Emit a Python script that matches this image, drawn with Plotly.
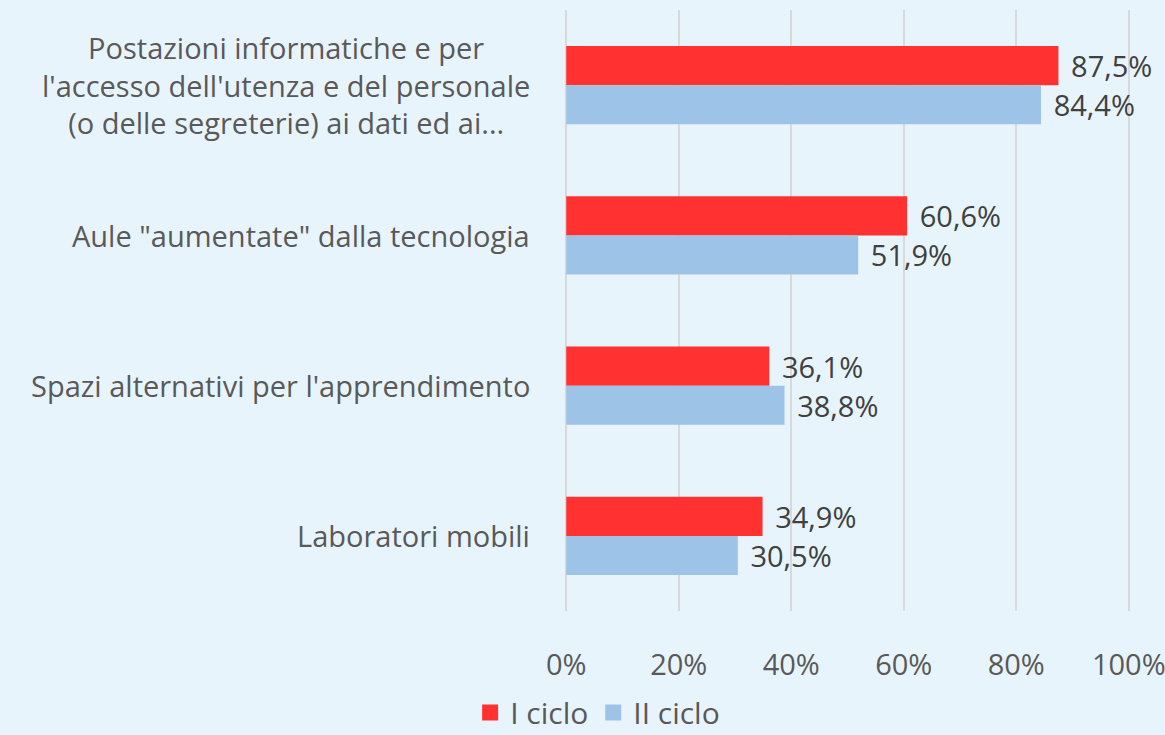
import plotly.graph_objects as go

categories = [
    "Postazioni informatiche e per<br>l'accesso dell'utenza e del personale<br>(o delle segreterie) ai dati ed ai...",
    "Aule \"aumentate\" dalla tecnologia",
    "Spazi alternativi per l'apprendimento",
    "Laboratori mobili",
]
i_ciclo = [87.5, 60.6, 36.1, 34.9]
ii_ciclo = [84.4, 51.9, 38.8, 30.5]
tick_vals = [0, 20, 40, 60, 80, 100]
tick_text = ["0%", "20%", "40%", "60%", "80%", "100%"]

FONT = "Open Sans"
BG = "#E8F4FC"
RED = "#FF3131"
BLUE = "#9DC3E6"
FS = 29

fig = go.Figure()
fig.add_trace(go.Bar(
    y=categories, x=i_ciclo, orientation="h", name="I ciclo", showlegend=False,
    marker=dict(color=RED, line=dict(width=0)),
    texttemplate="\u2009\u2009%{x:.1f}%", textposition="outside",
    textfont=dict(color="#404040", size=FS, family=FONT), cliponaxis=False,
))
fig.add_trace(go.Bar(
    y=categories, x=ii_ciclo, orientation="h", name="II ciclo", showlegend=False,
    marker=dict(color=BLUE, line=dict(width=0)),
    texttemplate="\u2009\u2009%{x:.1f}%", textposition="outside",
    textfont=dict(color="#404040", size=FS, family=FONT), cliponaxis=False,
))
# legend entries with larger square swatches
for name, col in [("I ciclo", RED), ("II ciclo", BLUE)]:
    fig.add_trace(go.Scatter(
        x=[None], y=[None], mode="markers", name=name,
        marker=dict(symbol="square", size=20, color=col),
    ))

for c in categories:
    fig.add_annotation(
        x=0, xref="paper", y=c, yref="y", text=c, showarrow=False,
        xanchor="right", xshift=-32, align="center",
        font=dict(size=FS, color="#595959", family=FONT),
    )

fig.update_layout(
    width=1165, height=735,
    paper_bgcolor=BG, plot_bgcolor=BG,
    separators=",.",
    barmode="group", bargap=0.48, bargroupgap=0,
    margin=dict(l=564, r=34, t=10, b=124, autoexpand=False),
    font=dict(family=FONT, size=FS, color="#595959"),
    showlegend=True,
    legend=dict(
        orientation="h", xref="container", yref="paper",
        x=0.513, xanchor="center", y=-0.169, yanchor="middle",
        font=dict(size=30, color="#595959", family=FONT),
        traceorder="normal", itemsizing="trace",
        tracegroupgap=0,
    ),
)
fig.update_xaxes(
    range=[-0.4, 100.4], tickvals=tick_vals, ticktext=tick_text,
    showgrid=True, gridcolor="#D9D9D9", gridwidth=1.5,
    zeroline=False, showline=False, ticks="", ticklabelstandoff=34,
    ticklabeloverflow="allow", automargin=False,
    tickfont=dict(size=FS, color="#595959"),
)
fig.update_yaxes(
    autorange="reversed", showticklabels=False, showgrid=False,
    zeroline=False, showline=False, ticks="", automargin=False,
)

fig.write_html(
    "out.html",
    config={"displayModeBar": False},
    post_script="document.body.style.margin='0';document.body.style.padding='0';",
)
